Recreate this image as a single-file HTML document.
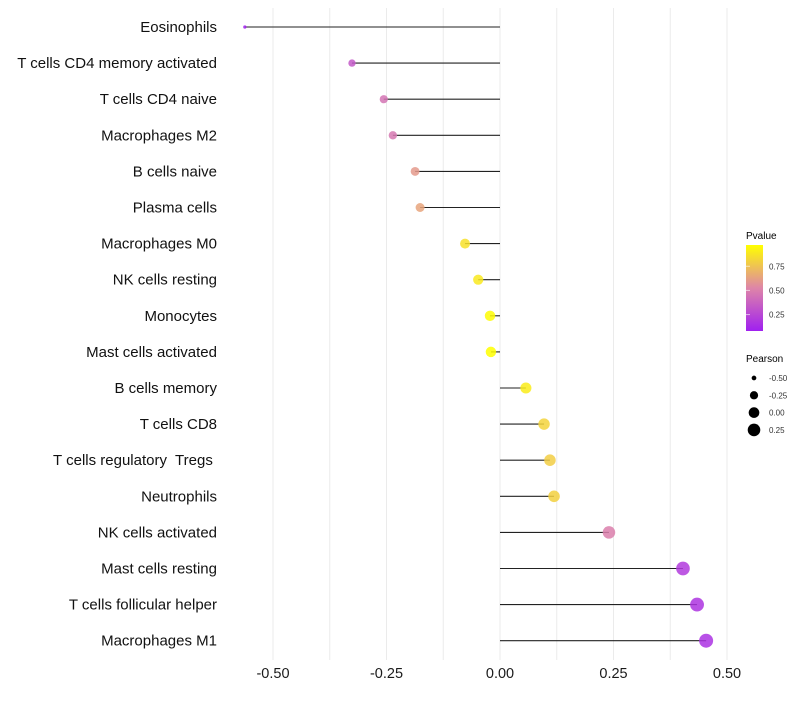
<!DOCTYPE html>
<html><head><meta charset="utf-8"><style>
body{margin:0;background:#fff;font-family:"Liberation Sans",sans-serif}
svg text{font-family:"Liberation Sans",sans-serif;white-space:pre}
</style></head><body>
<svg id="chart" width="800" height="700" xmlns="http://www.w3.org/2000/svg">
<g id="grid"></g>
<g id="segs"></g>
<g id="pts"></g>
<g id="ylab"></g>
<g id="xlab"></g>
<g id="legend">
<defs><linearGradient id="pg" x1="0" y1="1" x2="0" y2="0">
<stop offset="0" stop-color="#A020F0"/><stop offset="0.5" stop-color="#DE85A8"/><stop offset="1" stop-color="#FFFF00"/></linearGradient></defs>
<text x="746" y="239" font-size="10">Pvalue</text>
<rect x="746" y="245" width="17" height="86" fill="url(#pg)"/>
<g id="cbticks"></g>
<text x="746" y="362" font-size="10">Pearson</text>
<g id="sizeleg"></g>
</g>
</svg>
<script>
const categories=["Eosinophils","T cells CD4 memory activated","T cells CD4 naive","Macrophages M2","B cells naive","Plasma cells","Macrophages M0","NK cells resting","Monocytes","Mast cells activated","B cells memory","T cells CD8","T cells regulatory  Tregs ","Neutrophils","NK cells activated","Mast cells resting","T cells follicular helper","Macrophages M1"];
const pearson=[-0.562,-0.326,-0.256,-0.236,-0.187,-0.176,-0.077,-0.048,-0.022,-0.020,0.057,0.097,0.110,0.119,0.240,0.403,0.434,0.454];
const pvalue=[0.09,0.33,0.45,0.47,0.6,0.64,0.86,0.89,0.96,0.97,0.9,0.81,0.79,0.8,0.5,0.2,0.17,0.16];
const xTicks=[-0.5,-0.25,0,0.25,0.5];
const pTicks=[0.25,0.5,0.75];
const sizeTicks=[-0.5,-0.25,0,0.25];
const NS="http://www.w3.org/2000/svg";
const x=v=>500+v*454;
const y=i=>27+i*36.1;
const r=v=>Math.sqrt(Math.max(1,28.3+45.4*v));
const pMin=0.08,pMax=0.97;
function lerp(a,b,t){return a.map((c,k)=>Math.round(c+(b[k]-c)*t));}
function col(p){let t=Math.min(1,Math.max(0,(p-pMin)/(pMax-pMin)));const A=[160,32,240],M=[222,133,168],B=[255,255,0];
 const c=t<0.5?lerp(A,M,t/0.5):lerp(M,B,(t-0.5)/0.5);return `rgb(${c})`;}
function mk(tag,attrs,parent){const e=document.createElementNS(NS,tag);for(const k in attrs)e.setAttribute(k,attrs[k]);document.getElementById(parent).appendChild(e);return e;}
for(let v=-0.5;v<=0.501;v+=0.125){const l=mk('line',{x1:x(v),x2:x(v),y1:8,y2:660,stroke:'#ebebeb','stroke-width':1},'grid');

}
xTicks.forEach(v=>{const t=mk('text',{x:x(v),y:678,'font-size':14.5,'text-anchor':'middle',fill:'#1a1a1a'},'xlab');t.textContent=v.toFixed(2);

});
categories.forEach((c,i)=>{
 const t=mk('text',{x:217,y:y(i)+5,'font-size':15,'text-anchor':'end',fill:'#111'},'ylab');t.textContent=c;
 
 
 const l=mk('line',{x1:x(0),x2:x(pearson[i]),y1:y(i),y2:y(i),stroke:'#222','stroke-width':1.1},'segs');
 
 
 const p=mk('circle',{cx:x(pearson[i]),cy:y(i),r:r(pearson[i]),fill:col(pvalue[i]),'fill-opacity':0.85},'pts');
 
 
});
pTicks.forEach(v=>{const yy=331-(v-pMin)/(pMax-pMin)*86;
 const l=mk('line',{x1:746,x2:750,y1:yy,y2:yy,stroke:'#fff','stroke-opacity':0.6},'cbticks');
 
 
 const t=mk('text',{x:769,y:yy+3,'font-size':8,fill:'#333'},'cbticks');t.textContent=v.toFixed(2);
 
 });
sizeTicks.forEach((v,i)=>{const yy=378+i*17.3;
 const c=mk('circle',{cx:754,cy:yy,r:r(v),fill:'#000'},'sizeleg');
 
 
 const t=mk('text',{x:769,y:yy+3,'font-size':8,fill:'#333'},'sizeleg');t.textContent=v.toFixed(2);
 
 });
</script>
</body></html>
